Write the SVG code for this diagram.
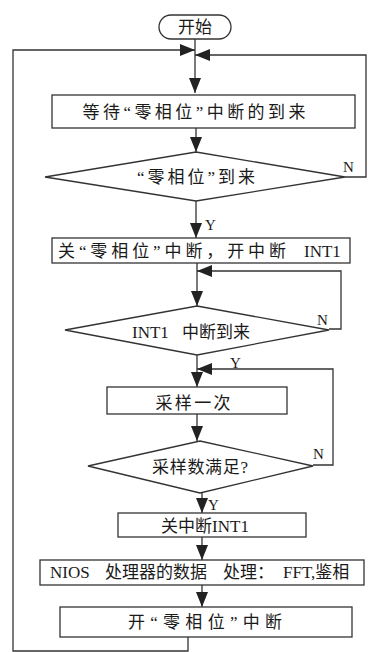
<svg xmlns="http://www.w3.org/2000/svg" width="368" height="652" viewBox="0 0 368 652">
<style>
.bx{fill:none;stroke:#333;stroke-width:1.3}
.ln{fill:none;stroke:#333;stroke-width:1.3}
.t{font-family:"Liberation Serif","Noto Sans CJK SC",serif;font-size:17px;fill:#1a1a1a;text-anchor:middle}
.s{font-family:"Liberation Serif","Noto Sans CJK SC",serif;font-size:17px;fill:#1a1a1a}
.l{font-family:"Liberation Serif",serif;font-size:15px;fill:#1a1a1a}
</style>
<defs>
<marker id="arr" markerUnits="userSpaceOnUse" viewBox="0 0 15 12" refX="15" refY="6" markerWidth="15" markerHeight="12" orient="auto">
<path d="M0,0 L15,6 L0,12 z" fill="#222"/>
</marker>
</defs>
<rect width="368" height="652" fill="#fff"/>
<g id="connectors">
<path class="ln" d="M195,39 V93" marker-end="url(#arr)"/>
<path class="ln" d="M188,637 V651 H13 V50 H195" marker-end="url(#arr)"/>
<path class="ln" d="M345,177 H366 V55 H195" marker-end="url(#arr)"/>
<path class="ln" d="M196,128 V152" marker-end="url(#arr)"/>
<path class="ln" d="M196,201 V238" marker-end="url(#arr)"/>
<path class="ln" d="M197,263 V306" marker-end="url(#arr)"/>
<path class="ln" d="M329,329 H341 V271 H197" marker-end="url(#arr)"/>
<path class="ln" d="M197,355 V387" marker-end="url(#arr)"/>
<path class="ln" d="M313,465 H333 V369 H197" marker-end="url(#arr)"/>
<path class="ln" d="M197,414 V441" marker-end="url(#arr)"/>
<path class="ln" d="M202,493 V513" marker-end="url(#arr)"/>
<path class="ln" d="M202,537 V560" marker-end="url(#arr)"/>
<path class="ln" d="M202,585 V607" marker-end="url(#arr)"/>
<text class="l" x="343" y="172">N</text>
<text class="l" x="205" y="230">Y</text>
<text class="l" x="317" y="325">N</text>
<text class="l" x="230" y="368">Y</text>
<text class="l" x="313" y="459">N</text>
<text class="l" x="208" y="510">Y</text>
</g>
<g id="start">
<rect class="bx" x="159" y="15" width="72" height="24" rx="12"/>
<text class="t" x="195" y="33">开始</text>
</g>
<g id="wait">
<rect class="bx" x="52" y="95" width="303" height="33"/>
<text class="t" x="194" y="118" textLength="223" lengthAdjust="spacing">等待“零相位”中断的到来</text>
</g>
<g id="d1">
<path class="bx" d="M196,152 L345,177 L196,201 L45,177 z"/>
<text class="t" x="196" y="183" textLength="118" lengthAdjust="spacing">“零相位”到来</text>
</g>
<g id="box2">
<rect class="bx" x="52" y="238" width="298" height="25"/>
<text class="s" x="58" y="257" textLength="228" lengthAdjust="spacing">关“零相位”中断，开中断</text>
<text class="s" x="304" y="257">INT1</text>
</g>
<g id="d2">
<path class="bx" d="M197,306 L329,330 L197,355 L65,330 z"/>
<text class="s" y="338"><tspan x="132">INT1</tspan><tspan x="182">中断到来</tspan></text>
</g>
<g id="sample">
<rect class="bx" x="107" y="387" width="180" height="27"/>
<text class="t" x="193" y="409" textLength="75" lengthAdjust="spacing">采样一次</text>
</g>
<g id="d3">
<path class="bx" d="M200,441 L313,466 L200,493 L88,466 z"/>
<text class="t" x="200" y="473" textLength="96" lengthAdjust="spacing">采样数满足?</text>
</g>
<g id="box4">
<rect class="bx" x="118" y="513" width="188" height="24"/>
<text class="t" x="205" y="532">关中断INT1</text>
</g>
<g id="box5">
<rect class="bx" x="40" y="560" width="324" height="25"/>
<text class="s" y="578"><tspan x="50">NIOS</tspan><tspan x="105">处理器的数据</tspan><tspan x="223">处理：</tspan><tspan x="283">FFT,鉴相</tspan></text>
</g>
<g id="box6">
<rect class="bx" x="60" y="607" width="292" height="30"/>
<text class="t" x="205" y="628" textLength="154" lengthAdjust="spacing">开“零相位”中断</text>
</g>
</svg>
